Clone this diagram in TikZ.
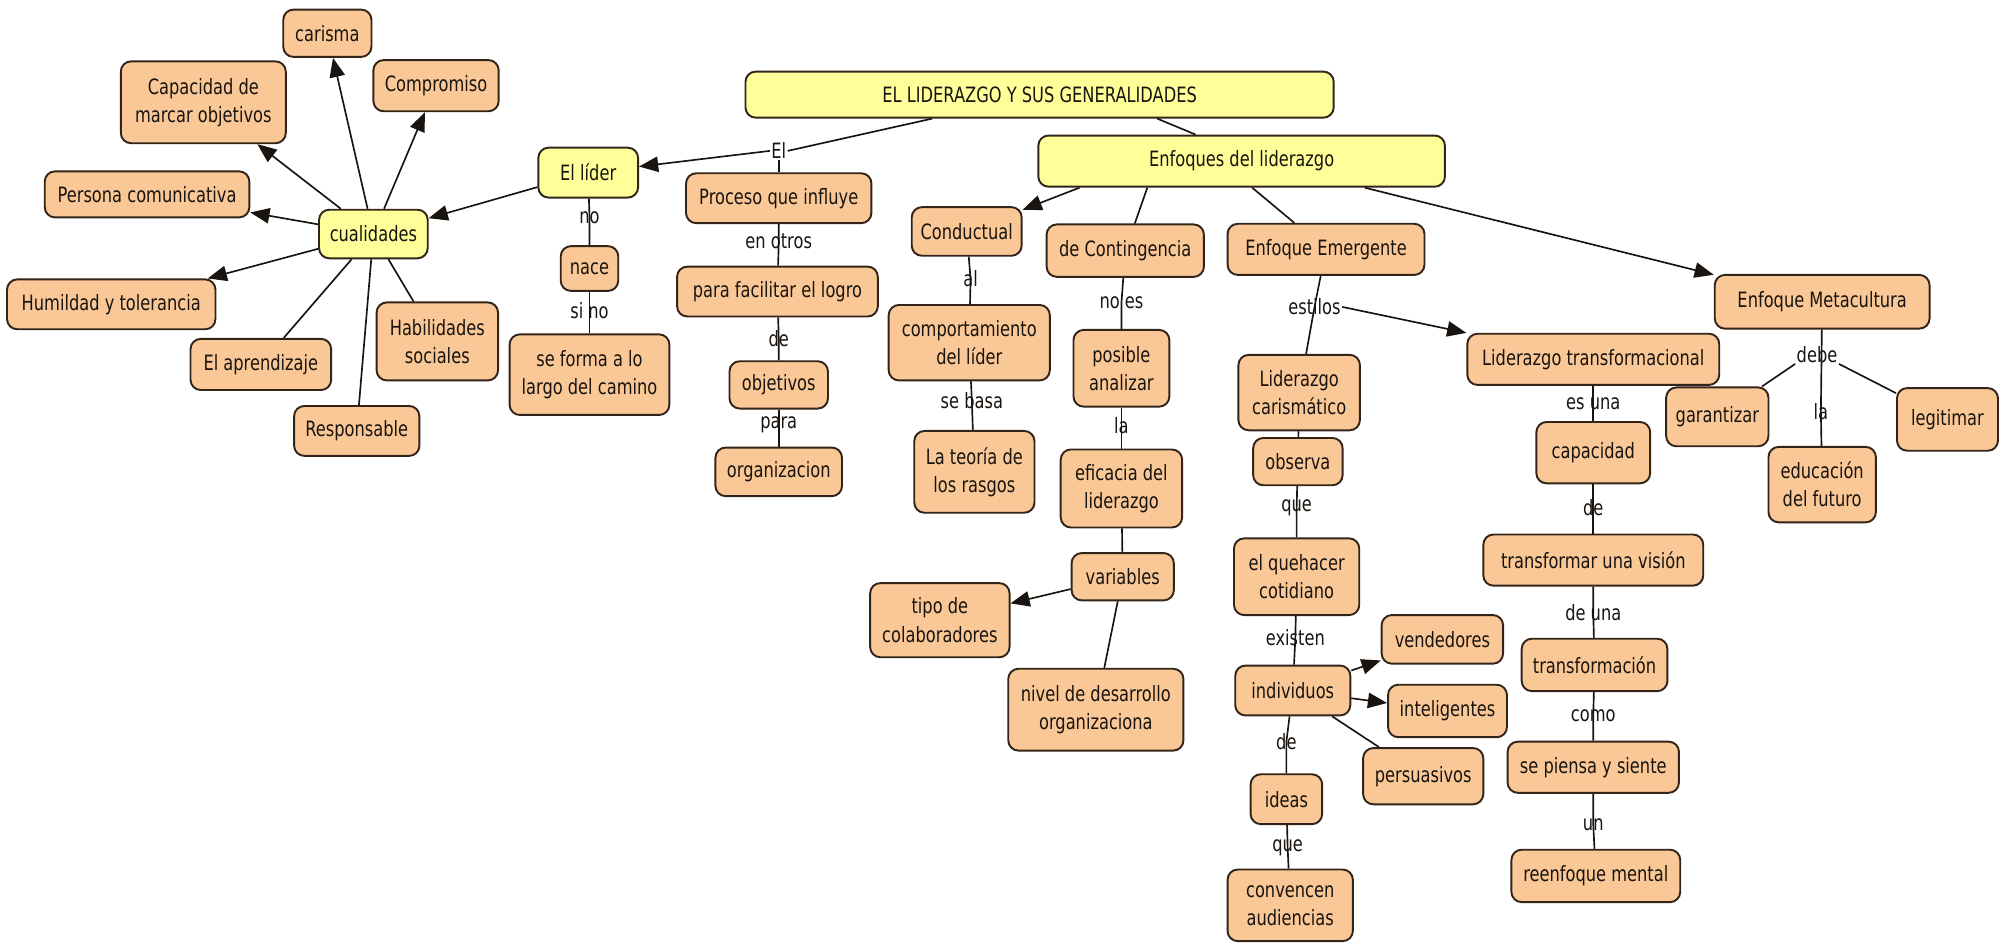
\documentclass[tikz,border=0pt]{standalone}
\usepackage{fontspec}
\setmainfont[FakeStretch=0.77]{DejaVu Sans}
\usetikzlibrary{arrows.meta,calc}
\definecolor{boxor}{RGB}{250,200,150}
\definecolor{boxye}{RGB}{255,255,153}
\definecolor{bord}{RGB}{50,36,25}
\definecolor{txt}{RGB}{25,20,15}
\begin{document}
\begin{tikzpicture}[x=1pt,y=-1pt,
 cbox/.style={draw=bord, line width=1.5pt, fill=boxor, rounded corners=8pt, align=center, inner sep=2pt, font=\fontsize{16.5}{22}\selectfont, text=txt},
 ybox/.style={cbox, fill=boxye},
 sz/.style 2 args={minimum width=#1, minimum height=#2},
 lbl/.style={inner sep=1pt, font=\fontsize{16.5}{22}\selectfont, text=txt},
 con/.style={line width=1.3pt, draw=txt},
 arr/.style={con, -{Triangle[length=15pt,width=12pt]}},
]
\useasboundingbox (0,0) rectangle (1568,737);

% yellow nodes
\node[ybox,sz={460}{36}] (title) at (813,74) {EL LIDERAZGO Y SUS GENERALIDADES};
\node[ybox,sz={318}{40}] (enf) at (971,126) {Enfoques del liderazgo};
\node[ybox,sz={78}{39}] (lider) at (460,135) {El líder};
\node[ybox,sz={85}{38}] (cual) at (292,183) {cualidades};

% cualidades
\node[cbox,sz={69}{37}] (carisma) at (256,26) {carisma};
\node[cbox,sz={129}{64}] (capac) at (159,80) {Capacidad de\\marcar objetivos};
\node[cbox,sz={98}{40}] (compr) at (341,67) {Compromiso};
\node[cbox,sz={160}{36}] (persona) at (115,152) {Persona comunicativa};
\node[cbox,sz={163}{39}] (humil) at (87,238) {Humildad y tolerancia};
\node[cbox,sz={110}{40}] (aprend) at (204,285) {El aprendizaje};
\node[cbox,sz={95}{61}] (habil) at (342,267) {Habilidades\\sociales};
\node[cbox,sz={98}{39}] (resp) at (279,337) {Responsable};

% el lider
\node[cbox,sz={45}{35}] (nace) at (461,210) {nace};
\node[cbox,sz={125}{63}] (forma) at (461,293) {se forma a lo\\largo del camino};
\node[lbl] (lno) at (461,170) {no};
\node[lbl] (lsino) at (461,243) {si no};

% proceso
\node[lbl] (lEl) at (609,118) {El};
\node[cbox,sz={145}{39}] (proceso) at (609,155) {Proceso que influye};
\node[lbl] (lenotros) at (609,189) {en otros};
\node[cbox,sz={157}{39}] (facil) at (608,228) {para facilitar el logro};
\node[lbl] (lde1) at (609,265) {de};
\node[cbox,sz={77}{37}] (objet) at (609,301) {objetivos};
\node[lbl] (lpara) at (609,332) {para};
\node[cbox,sz={99}{38}] (organ) at (609,369) {organizacion};

% conductual
\node[cbox,sz={86}{38}] (conduc) at (756,181) {Conductual};
\node[lbl] (lal) at (759,218) {al};
\node[cbox,sz={126}{59}] (compor) at (758,268) {comportamiento\\del líder};
\node[lbl] (lsebasa) at (760,313) {se basa};
\node[cbox,sz={94}{64}] (teoria) at (762,369) {La teoría de\\los rasgos};

% contingencia
\node[cbox,sz={123}{41}] (conting) at (880,196) {de Contingencia};
\node[lbl] (lnoes) at (877,237) {no es};
\node[cbox,sz={75}{60}] (posible) at (877,288) {posible\\analizar};
\node[lbl] (lla1) at (877,333) {la};
\node[cbox,sz={95}{61}] (eficacia) at (877,382) {eficacia del\\liderazgo};
\node[cbox,sz={80}{37}] (variab) at (878,451) {variables};
\node[cbox,sz={109}{58}] (tipo) at (735,485) {tipo de\\colaboradores};
\node[cbox,sz={137}{64}] (nivel) at (857,555) {nivel de desarrollo\\organizaciona};

% emergente
\node[cbox,sz={154}{40}] (emerg) at (1037,195) {Enfoque Emergente};
\node[lbl] (lestilos) at (1028,240) {estilos};
\node[cbox,sz={95}{59}] (carism) at (1016,307) {Liderazgo\\carismático};
\node[cbox,sz={70}{37}] (observa) at (1015,361) {observa};
\node[lbl] (lque1) at (1014,397) {que};
\node[cbox,sz={98}{60}] (queha) at (1014,451) {el quehacer\\cotidiano};
\node[lbl] (lexisten) at (1013,499) {existen};
\node[cbox,sz={90}{39}] (indiv) at (1011,540) {individuos};
\node[cbox,sz={95}{38}] (vended) at (1128,500) {vendedores};
\node[cbox,sz={93}{41}] (intelig) at (1132,556) {inteligentes};
\node[cbox,sz={94}{44}] (persua) at (1113,607) {persuasivos};
\node[lbl] (lde2) at (1006,580) {de};
\node[cbox,sz={56}{39}] (ideas) at (1006,625) {ideas};
\node[lbl] (lque2) at (1007,663) {que};
\node[cbox,sz={98}{56}] (conven) at (1009,708) {convencen\\audiencias};

% transformacional
\node[cbox,sz={197}{40}] (transf) at (1246,281) {Liderazgo transformacional};
\node[lbl] (lesuna) at (1246,316) {es una};
\node[cbox,sz={89}{48}] (capaci) at (1246,354) {capacidad};
\node[lbl] (lde3) at (1246,397) {de};
\node[cbox,sz={172}{40}] (tvision) at (1246,438) {transformar una visión};
\node[lbl] (ldeuna) at (1246,479) {de una};
\node[cbox,sz={114}{41}] (transfn) at (1247,520) {transformación};
\node[lbl] (lcomo) at (1246,560) {como};
\node[cbox,sz={134}{40}] (piensa) at (1246,600) {se piensa y siente};
\node[lbl] (lun) at (1246,645) {un};
\node[cbox,sz={132}{41}] (reenf) at (1248,685) {reenfoque mental};

% metacultura
\node[cbox,sz={168}{42}] (meta) at (1425,236) {Enfoque Metacultura};
\node[lbl] (ldebe) at (1421,277) {debe};
\node[lbl] (lla2) at (1424,322) {la};
\node[cbox,sz={80}{46}] (garant) at (1343,326) {garantizar};
\node[cbox,sz={84}{59}] (educ) at (1425,379) {educación\\del futuro};
\node[cbox,sz={79}{49}] (legit) at (1523,328) {legitimar};

% ---------- connectors ----------
\draw[con] (title) -- (lEl.east);
\draw[arr] (lEl.west) -- (lider);
\draw[con] (lEl.south) -- (proceso);
\draw[con] ($(title.south)+(92,0)$) -- ($(enf.north)+(-36,0)$);

\draw[arr] (lider) -- (cual);
\draw[arr] (cual) -- (carisma);
\draw[arr] (cual) -- (capac);
\draw[arr] (cual) -- (compr);
\draw[arr] (cual) -- (persona);
\draw[arr] (cual) -- (humil);
\draw[con] (cual) -- (aprend);
\draw[con] (cual) -- (resp);
\draw[con] (cual) -- (habil);

\draw[con] (lider) -- (lno.center) -- (nace);
\draw[con] (nace) -- (lsino.center) -- (forma);

\draw[con] (proceso) -- (lenotros.center) -- (facil);
\draw[con] (facil) -- (lde1.center) -- (objet);
\draw[con] (objet) -- (lpara.center) -- (organ);

\draw[arr] ($(enf.south west)+(33,0)$) -- (conduc);
\draw[con] ($(enf.south west)+(86,0)$) -- (conting);
\draw[con] ($(enf.south west)+(168,0)$) -- (emerg);
\draw[arr] ($(enf.south west)+(256,0)$) -- (meta);

\draw[con] (conduc) -- (lal.center) -- (compor);
\draw[con] (compor) -- (lsebasa.center) -- (teoria);

\draw[con] (conting) -- (lnoes.center) -- (posible);
\draw[con] (posible) -- (lla1.center) -- (eficacia);
\draw[con] (eficacia) -- (variab);
\draw[arr] (variab) -- (tipo);
\draw[con] (variab) -- (nivel);

\draw[con] (emerg) -- (lestilos.center) -- (carism);
\draw[arr] (lestilos.east) -- (transf);
\draw[con] (carism) -- (observa);
\draw[con] (observa) -- (lque1.center) -- (queha);
\draw[con] (queha) -- (lexisten.center) -- (indiv);
\draw[arr] (indiv) -- (vended);
\draw[arr] (indiv) -- (intelig);
\draw[con] (indiv) -- (persua);
\draw[con] (indiv) -- (lde2.center) -- (ideas);
\draw[con] (ideas) -- (lque2.center) -- (conven);

\draw[con] (transf) -- (lesuna.center) -- (capaci);
\draw[con] (capaci) -- (lde3.center) -- (tvision);
\draw[con] (tvision) -- (ldeuna.center) -- (transfn);
\draw[con] (transfn) -- (lcomo.center) -- (piensa);
\draw[con] (piensa) -- (lun.center) -- (reenf);

\draw[con] (meta) -- (lla2.center) -- (educ);
\draw[con] (ldebe.south west) -- (garant);
\draw[con] (ldebe.south east) -- (legit);
\end{tikzpicture}
\end{document}
